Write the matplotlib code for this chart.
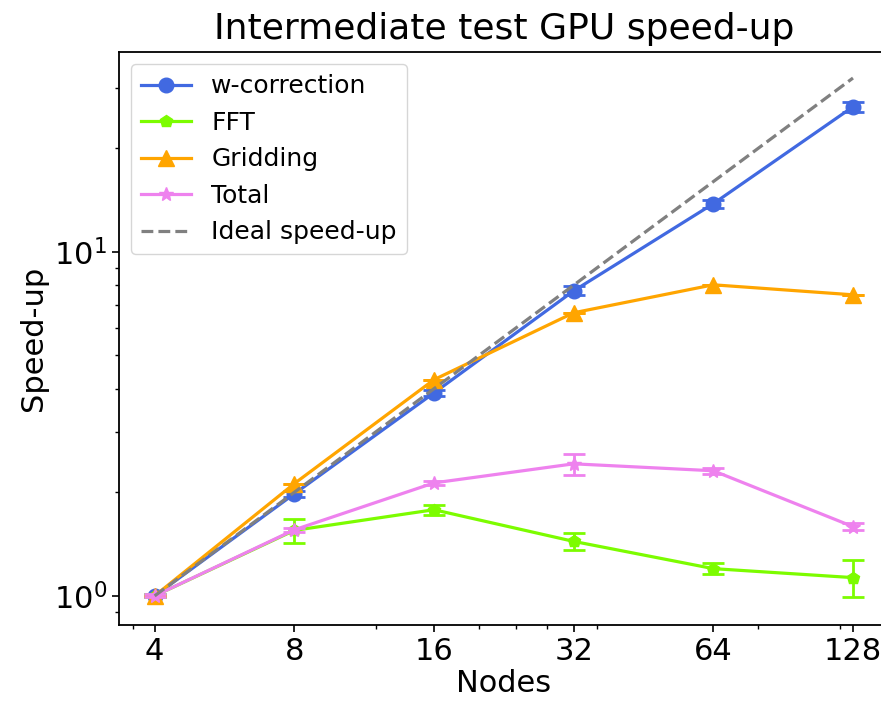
import matplotlib
matplotlib.use('Agg')
import matplotlib.pyplot as plt
from matplotlib.ticker import FixedLocator, NullFormatter

# data
nodes = [4, 8, 16, 32, 64, 128]
ideal = [1, 2, 4, 8, 16, 32]

wcorr = [1.0, 1.98, 3.89, 7.70, 13.8, 26.4]
wcorr_err = [0.01, 0.04, 0.08, 0.23, 0.37, 0.9]

fft = [1.0, 1.55, 1.78, 1.44, 1.20, 1.13]
fft_err = [0.01, 0.125, 0.06, 0.08, 0.045, 0.14]

gridding = [1.0, 2.12, 4.25, 6.65, 8.02, 7.50]
gridding_err = [0.0, 0.0, 0.0, 0.0, 0.0, 0.0]

total = [1.0, 1.556, 2.13, 2.42, 2.31, 1.59]
total_err = [0.01, 0.02, 0.03, 0.17, 0.05, 0.04]

x_minor = [3.6, 12, 20, 24, 28, 36, 80, 120]

fig = plt.figure(figsize=(8.81, 7.05), dpi=100)
ax = fig.add_axes([0.135, 0.1135, 0.874, 0.8128])

series = [
    (wcorr, wcorr_err, 'royalblue', 'o', 10.5, 'w-correction'),
    (fft, fft_err, 'lawngreen', 'p', 9, 'FFT'),
    (gridding, gridding_err, 'orange', '^', 11, 'Gridding'),
    (total, total_err, 'violet', '*', 10, 'Total'),
]

for y, e, c, m, ms, lab in series:
    ax.errorbar(nodes, y, yerr=e, fmt='none', ecolor=c, elinewidth=2,
                capsize=8, capthick=2)
    ax.plot(nodes, y, color=c, marker=m, markersize=ms, linewidth=2.3, label=lab)

ax.plot(nodes, ideal, color='gray', linestyle='--', linewidth=2.3, label='Ideal speed-up')

ax.set_xscale('log', base=2)
ax.set_yscale('log')
ax.set_xlim(3.35, 153)
ax.set_ylim(0.823, 38.1)

ax.set_xticks(nodes)
ax.set_xticklabels([str(n) for n in nodes])
ax.xaxis.set_minor_locator(FixedLocator(x_minor))
ax.xaxis.set_minor_formatter(NullFormatter())

ax.tick_params(which='major', labelsize=22, length=5, width=1.2)
ax.tick_params(which='minor', length=3, width=1.0)
for s in ax.spines.values():
    s.set_linewidth(1.3)
ax.spines['right'].set_visible(False)

ax.set_xlabel('Nodes', fontsize=22, labelpad=2)
ax.set_ylabel('Speed-up', fontsize=22)
ax.set_title('Intermediate test GPU speed-up', fontsize=26, pad=9)
ax.legend(loc='upper left', fontsize=18)

fig.savefig('out.png', dpi=100)
